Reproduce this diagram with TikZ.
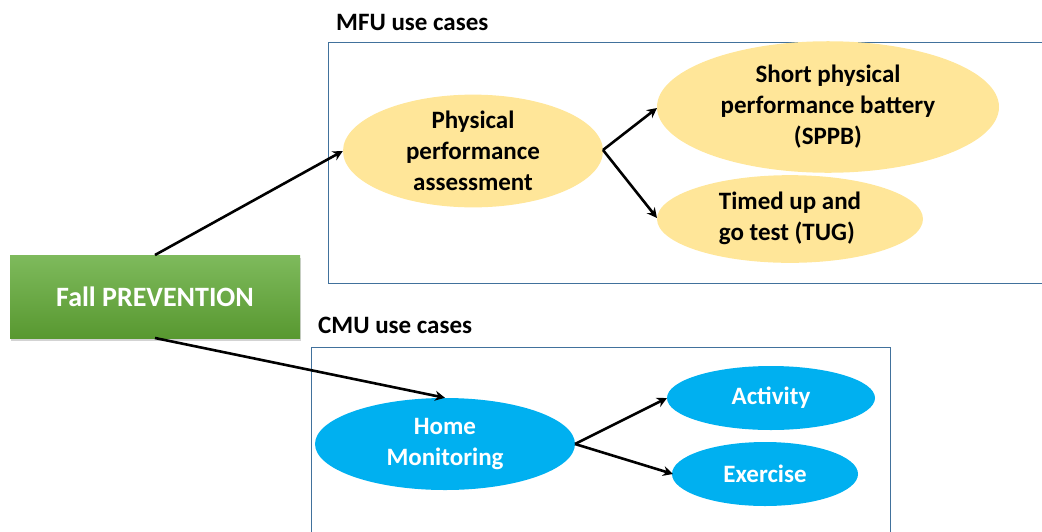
\documentclass[tikz,border=0pt]{standalone}
\usepackage{fontspec}
\setmainfont{Carlito}
\usetikzlibrary{shapes.geometric,arrows.meta,shadows}
\definecolor{frameblue}{RGB}{65,113,156}
\definecolor{ylw}{RGB}{255,230,153}
\definecolor{cyanb}{RGB}{0,176,240}
\definecolor{gtop}{RGB}{126,186,92}
\definecolor{gbot}{RGB}{88,152,48}
\tikzset{
  x=1pt,y=-1pt,
  txt/.style={font=\fontsize{25}{31}\selectfont\bfseries},
  frame/.style={draw=frameblue,line width=0.9pt},
  ttl/.style={txt,anchor=west,inner sep=0pt},
  yell/.style={ellipse,fill=ylw,inner sep=0pt,txt,text=black,align=center},
  blu/.style={ellipse,fill=cyanb,inner sep=0pt,txt,text=white,align=center},
  conn/.style={line width=2.6pt,-{Stealth[length=10pt,width=10pt]}},
  root/.style={rectangle,top color=gtop,bottom color=gbot,minimum width=290pt,minimum height=83pt,
    font=\fontsize{28}{32}\selectfont\bfseries,text=white,drop shadow={shadow xshift=1pt,shadow yshift=-2pt,opacity=0.35}},
}
\begin{document}
\begin{tikzpicture}
\useasboundingbox (0,0) rectangle (1042,531);
% frames
\draw[frame] (328,42) rectangle (1046,283);
\draw[frame] (311,347) rectangle (890,535);
\node[ttl] (mfu) at (336,22) {MFU use cases};
\node[ttl] (cmu) at (318,325) {CMU use cases};
% nodes
\node[root] (fall) at (155,297) {Fall PREVENTION};
\node[yell,minimum width=260pt,minimum height=92pt] (ppa) at (473,151) {Physical\\performance\\assessment};
\node[yell,minimum width=342pt,minimum height=106pt] (sppb) at (828,107) {\raisebox{-3pt}{\begin{tabular}{@{}c@{}}Short physical\\performance battery\\(SPPB)\end{tabular}}};
\node[yell,minimum width=266pt,minimum height=86pt] (tug) at (790,219) {\begin{tabular}{@{}l@{}}Timed up and\\go test (TUG)\end{tabular}};
\node[blu,minimum width=260pt,minimum height=92pt] (home) at (445,444) {Home\\Monitoring};
\node[blu,minimum width=208pt,minimum height=64pt] (act) at (771,398) {Activity};
\node[blu,minimum width=186pt,minimum height=64pt] (exe) at (765,474) {Exercise};
% connectors
\coordinate (ft) at (155,255);
\coordinate (fb) at (155,338);
\coordinate (pr) at (603,150);
\coordinate (hr) at (575,444);
\draw[conn] (ft) -- (ppa.west);
\draw[conn] (fb) -- (home.north);
\draw[conn] (pr) -- (657,108);
\draw[conn] (pr) -- (657,218);
\draw[conn] (hr) -- (667,398);
\draw[conn] (hr) -- (673,474);
\end{tikzpicture}
\end{document}
